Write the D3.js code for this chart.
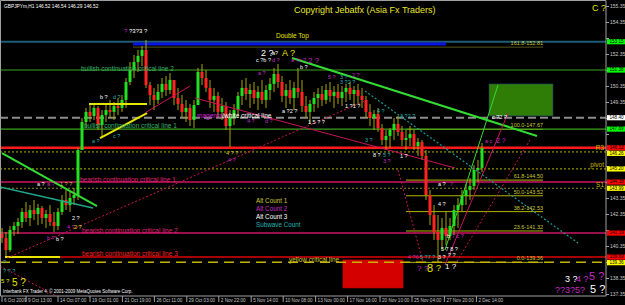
<!DOCTYPE html>
<html>
<head>
<meta charset="utf-8">
<script src="https://cdn.jsdelivr.net/npm/d3@7"></script>
<style>
  body { margin: 0; background: #000; }
  svg { display: block; font-family: Arial, "Liberation Sans", sans-serif; }
</style>
</head>
<body>
<div id="chart"></div>
<script>
// GBPJPY H1 bars, one slot per ~8 hours (high / low / close)
var barHigh = [141.51,141.26,141.63,141.88,142.13,142.76,143.13,142.94,143.26,143.01,
  142.88,142.63,142.94,142.51,142.76,143.57,143.88,143.76,144.01,146.51,
  148.38,149.01,149.26,149.32,149.13,148.88,149.26,149.51,149.38,149.63,
  149.82,150.88,151.88,152.32,152.63,152.88,153.26,150.63,150.26,150.51,
  150.88,151.01,151.19,150.63,150.26,149.82,149.51,149.26,149.51,151.51,
  151.76,151.38,150.76,150.26,150.01,149.63,149.38,148.88,149.26,150.01,
  150.76,150.88,150.51,150.63,150.38,150.76,150.44,150.88,151.51,151.76,
  151.01,150.51,150.76,150.63,151.51,150.76,149.76,149.51,150.01,150.26,
  150.38,150.51,150.63,150.38,150.51,150.38,150.51,150.63,150.38,150.51,
  150.26,149.76,149.26,148.88,149.01,148.01,147.63,147.76,148.38,148.51,
  147.88,147.63,147.88,147.63,147.13,147.01,146.38,143.88,142.94,142.32,
  142.13,142.51,142.13,142.94,143.38,143.88,144.26,144.63,145.44,145.76,146.82];
var barLow = [140.57,139.69,140.01,141.01,141.13,141.51,141.88,141.63,142.01,141.69,
  141.76,141.51,141.63,141.26,141.38,142.32,142.63,142.51,142.94,143.26,
  146.38,147.76,148.13,148.26,147.63,147.13,148.13,148.38,148.26,148.57,
  148.76,149.01,150.44,150.88,151.26,151.63,150.26,149.19,148.88,149.26,
  149.63,149.76,149.88,149.19,148.88,148.38,148.13,147.88,147.76,149.19,
  150.44,150.01,149.01,148.76,148.38,148.26,147.63,146.57,147.94,148.38,
  149.19,149.51,149.01,149.26,148.88,149.26,149.01,149.51,150.01,150.26,
  149.38,149.01,149.26,148.88,149.63,148.76,148.38,148.01,148.76,149.01,
  149.13,149.26,149.38,149.01,149.26,149.13,149.38,149.51,149.13,149.26,
  149.01,148.38,147.88,147.63,147.51,146.69,146.38,146.51,147.01,147.26,
  146.63,146.38,146.63,146.38,146.01,145.76,143.26,141.69,140.76,139.32,
  140.13,140.44,140.76,141.07,141.51,142.51,142.94,143.26,143.88,144.38,145.01];
var barClose = [140.88,140.13,141.38,141.63,141.88,142.51,142.13,142.63,142.38,142.76,
  142.13,142.38,141.88,141.63,142.51,143.26,142.94,143.38,143.57,146.38,
  148.13,148.76,148.51,149.01,147.94,148.57,148.88,148.76,149.13,149.01,
  149.51,150.63,151.38,151.88,152.26,152.63,150.44,149.82,149.51,150.01,
  150.51,150.13,150.76,149.63,149.26,148.76,149.01,148.26,149.19,151.26,
  150.88,150.26,149.51,149.76,148.76,149.13,147.88,148.38,148.88,149.76,
  150.26,149.88,150.13,149.63,150.01,149.51,150.13,150.51,151.13,150.63,
  149.76,150.13,149.63,150.26,150.01,149.13,148.76,149.26,149.63,149.88,
  149.51,150.13,149.76,150.01,149.63,150.01,150.26,149.88,150.13,149.76,
  149.51,148.76,148.38,148.63,147.76,147.01,147.26,147.63,148.01,147.51,
  147.01,147.13,147.38,146.63,146.88,146.01,143.57,142.32,141.26,140.76,
  141.51,141.01,141.63,142.63,142.94,143.51,143.88,144.13,145.13,145.26,146.51];
var firstOpen = 141.13;

// time axis
var timeLabels = ["6 Oct 2009", "9 Oct 13:00", "14 Oct 07:00", "19 Oct 01:00", "21 Oct 19:00",
  "26 Oct 11:00", "29 Oct 03:00", "2 Nov 22:00", "5 Nov 14:00", "10 Nov 08:00", "13 Nov 00:00",
  "17 Nov 16:00", "20 Nov 10:00", "25 Nov 04:00", "27 Nov 20:00", "2 Dec 14:00"];
var timeTickBars = [0, 6, 14, 22, 30.1, 38.1, 46.2, 54.2, 62.3, 70.3, 78.4, 86.4, 94.5, 102.5, 110.6, 118.6];

// price axis
var priceTicks = [155.35, 154.35, 153.35, 152.35, 151.35, 150.35, 149.35, 148.35, 147.35,
  146.35, 145.35, 144.35, 143.35, 142.35, 141.35, 140.35, 139.35, 138.35, 137.35];

// critical lines
var levelNames = ["doubleTop", "bullish2", "magentaWhite", "bullish1", "bid", "bearish1", "bearish2", "bearish3", "yellowCritical"];
var levelPrices = [153.15, 151.38, 148.40, 147.69, 146.52, 144.38, 141.19, 139.69, 139.36];

// fibonacci levels
var fibNames = ["161.8", "100.0", "61.8", "50.0", "38.2", "23.6", "0.0"];
var fibPrices = [152.81, 147.67, 144.50, 143.52, 142.53, 141.32, 139.36];

// pivots
var pivotNames = ["R3", "pivot", "S1"];
var pivotPrices = [146.26, 145.20, 143.99];

// price boxes on the axis
var markerPrices = [153.15, 151.38, 148.40, 147.69, 146.52, 146.26, 145.20, 144.38, 143.99, 141.19, 139.69, 139.36];
var markerKinds = ["green", "green", "white", "green", "red", "yellow", "yellow", "red", "yellow", "red", "red", "yellow"];

// trendlines: [bar1, price1, bar2, price2]
var trendLime = [[0, 146.19, 23.75, 142.88], [72.5, 152.13, 133.75, 147.26]];
var trendLimeThin = [[110.75, 140.13, 124, 150.44]];
var trendTeal = [[-0.5, 144.07, 22.75, 142.76]];
var trendYellow = [[21.75, 149.26, 36.25, 149.26], [24.5, 147.13, 36.25, 148.69], [0.75, 139.69, 14.5, 139.69]];
var trendCrimson = [[35.75, 148.70, 47, 150.38], [48.25, 149.63, 113.25, 145.26], [110.75, 139.20, 126.5, 148.69]];
var trendCrimsonDash = [[1.25, 139.63, 91.25, 149.51], [113.25, 139.20, 132, 147.01], [99, 145.13, 105.25, 139.38], [-0.5, 139.13, 13.5, 137.26]];
var trendTealDot = [[90.75, 150.07, 144, 140.57]];
var doubleTopBar = [32.75, 153.00, 111, 153.00];

// zones: [bar1, price1, bar2, price2]
var greenZone = [121.75, 150.51, 137.75, 148.51];
var redZone = [85.25, 139.51, 100.25, 137.76];

// wave count labels
var waveLabels = [
  {t: "?", b: 30.5, p: 153.69, c: "m", s: 6},
  {t: "?3?3 ?", b: 31.75, p: 153.69, c: "w", s: 6},
  {t: "2 ?", b: 64.75, p: 152.26, c: "w", s: 9},
  {t: "a?", b: 67.5, p: 152.32, c: "w", s: 5.5},
  {t: "A ?", b: 70, p: 152.26, c: "y", s: 9},
  {t: "c ?b ?", b: 63.5, p: 151.88, c: "w", s: 5.5},
  {t: "d ?", b: 67.5, p: 151.88, c: "m", s: 5.5},
  {t: "a ?c ?", b: 72.25, p: 151.88, c: "m", s: 5.5},
  {t: "2 ?", b: 76.5, p: 151.82, c: "m", s: 8},
  {t: "b ?", b: 74.5, p: 151.44, c: "w", s: 5.5},
  {t: "a ?", b: 64, p: 151.07, c: "m", s: 5.5},
  {t: "5 ?", b: 81.5, p: 150.82, c: "m", s: 5.5},
  {t: "3 ?", b: 84.5, p: 150.82, c: "t", s: 5.5},
  {t: "2 ?", b: 87.5, p: 150.94, c: "m", s: 5.5},
  {t: "3 ?2 ?", b: 84.5, p: 150.51, c: "t", s: 5.5},
  {t: "b ?", b: 24.5, p: 149.57, c: "w", s: 5.5},
  {t: "d ?", b: 27.75, p: 149.57, c: "t", s: 5.5},
  {t: "a ?", b: 22.5, p: 146.82, c: "t", s: 5.5},
  {t: "c ?", b: 27.75, p: 147.13, c: "t", s: 5.5},
  {t: "4 ?", b: 61.25, p: 148.06, c: "m", s: 5.5},
  {t: "d ?", b: 65.75, p: 148.06, c: "m", s: 5.5},
  {t: "a ?2 ?", b: 70, p: 148.69, c: "w", s: 5.5},
  {t: "4 ? ?", b: 56, p: 146.07, c: "o", s: 5.5},
  {t: "4 ?", b: 56.5, p: 145.63, c: "m", s: 5.5},
  {t: "1 5 ? ?", b: 76.5, p: 148.01, c: "w", s: 5.5},
  {t: "1 ?1 ?", b: 85.75, p: 149.01, c: "w", s: 5.5},
  {t: "4 ?", b: 93.75, p: 148.69, c: "t", s: 5.5},
  {t: "3 ?", b: 90.75, p: 146.88, c: "t", s: 5.5},
  {t: "8 ?", b: 92.75, p: 145.94, c: "w", s: 5.5},
  {t: "5 ?", b: 95.25, p: 145.94, c: "t", s: 5.5},
  {t: "3 ?", b: 95.25, p: 145.57, c: "m", s: 5.5},
  {t: "3 ?2 ?", b: 99.5, p: 148.38, c: "t", s: 5.5},
  {t: "1 ?", b: 99.5, p: 145.88, c: "w", s: 5.5},
  {t: "c ?2 ?", b: 122.5, p: 148.32, c: "w", s: 5.5},
  {t: "a c", b: 120.75, p: 146.82, c: "m", s: 5.5},
  {t: "2 ?", b: 123.5, p: 146.82, c: "m", s: 7},
  {t: "a ?", b: 109, p: 144.13, c: "w", s: 5.5},
  {t: "?", b: 112, p: 144.13, c: "m", s: 5.5},
  {t: "4 ?", b: 109, p: 142.88, c: "w", s: 5.5},
  {t: "b", b: 111.25, p: 140.88, c: "w", s: 5.5},
  {t: "7 c ?", b: 112.5, p: 140.88, c: "m", s: 5.5},
  {t: "5 7 8 ?", b: 109.75, p: 140.07, c: "w", s: 5.5},
  {t: "3 ?", b: 109, p: 139.55, c: "w", s: 5.5},
  {t: "? ?", b: 111.5, p: 139.68, c: "w", s: 5.5},
  {t: "4 ?6", b: 101.5, p: 139.55, c: "m", s: 5.5},
  {t: "5 ?7 ?", b: 104.5, p: 139.55, c: "t", s: 5.5},
  {t: "? ?", b: 103.75, p: 138.85, c: "m", s: 8},
  {t: "8", b: 106.25, p: 138.73, c: "y", s: 11},
  {t: "?", b: 108.5, p: 138.79, c: "y", s: 9},
  {t: "1 ?", b: 110.75, p: 138.92, c: "w", s: 8},
  {t: "3 ?", b: 140.75, p: 138.13, c: "w", s: 9},
  {t: "4 ?", b: 143.5, p: 138.13, c: "m", s: 9},
  {t: "5 ?", b: 146.75, p: 138.28, c: "m", s: 11},
  {t: "??3?5?", b: 138.25, p: 137.44, c: "m", s: 9},
  {t: "5 ?", b: 147, p: 137.44, c: "w", s: 11},
  {t: "?", b: 0.25, p: 139.26, c: "t", s: 5.5},
  {t: "? ? ?", b: 0.25, p: 138.70, c: "t", s: 5.5},
  {t: "5 ?", b: -0.25, p: 138.07, c: "y", s: 6},
  {t: "5 ?", b: 2.5, p: 137.88, c: "y", s: 10},
  {t: "b ?", b: 11.25, p: 140.76, c: "m", s: 5.5},
  {t: "b ?", b: 13.5, p: 140.69, c: "w", s: 5.5},
  {t: "2 ?", b: 17.5, p: 142.01, c: "w", s: 5.5},
  {t: "4 ?", b: 16.25, p: 141.44, c: "m", s: 5.5},
  {t: "2 ?", b: 18, p: 141.44, c: "y", s: 5.5},
  {t: "a ?", b: 8.75, p: 144.13, c: "w", s: 5.5},
  {t: "a ?", b: 11.25, p: 144.13, c: "m", s: 5.5},
  {t: "1 ? ?", b: 14.5, p: 144.13, c: "o", s: 5.5}
];

// ---- styles ----
var waveColor = {w: "#ffffff", m: "#c42cc4", t: "#22b4b4", y: "#e6e600", o: "#c8c832"};
var boxColor = {green: "#00ff00", white: "#ffffff", red: "#ff0000", yellow: "#ffff00"};
var levelStyle = {
  doubleTop:      {color: "#1e5d7a", width: 2},
  bullish2:       {color: "#3da01f", width: 1.2},
  magentaWhite:   {color: "#8c8c8c", width: 2, dash: "8,4"},
  bullish1:       {color: "#3da01f", width: 1.2},
  bid:            {color: "#ff1a1a", width: 2.5},
  bearish1:       {color: "#cc1466", width: 1.5},
  bearish2:       {color: "#cc1466", width: 1.5},
  bearish3:       {color: "#e00000", width: 1.5, from: 14.5},
  yellowCritical: {color: "#c8b400", width: 1.5, dash: "10,6"}
};

var W = 625, H = 305, plotR = 606, plotB = 296;

var x = d3.scaleLinear().domain([0, 151]).range([2, 606]);
var y = d3.scaleLinear().domain([137.35, 155.35]).range([294.5, 6.5]);

var svg = d3.select("#chart").append("svg")
  .attr("width", W).attr("height", H);

svg.append("rect").attr("width", W).attr("height", H).attr("fill", "#000");

svg.append("defs").append("clipPath").attr("id", "plot")
  .append("rect").attr("x", 0).attr("y", 0).attr("width", plotR).attr("height", plotB);

var plot = svg.append("g").attr("clip-path", "url(#plot)");

// zones
function zone(z, fill, stroke) {
  plot.append("rect")
    .attr("x", x(z[0])).attr("y", y(z[1]))
    .attr("width", x(z[2]) - x(z[0])).attr("height", y(z[3]) - y(z[1]))
    .attr("fill", fill).attr("stroke", stroke).attr("stroke-width", 0.6);
}
zone(greenZone, "#2f7d06", "#1a3a6a");
zone(redZone, "#d40000", "#d40000");

// pivot lines
plot.selectAll(".pivot").data(pivotPrices).enter().append("line")
  .attr("x1", x(-0.5)).attr("x2", x(151))
  .attr("y1", function(d) { return y(d); }).attr("y2", function(d) { return y(d); })
  .attr("stroke", function(d, i) { return i == 2 ? "#8a8a20" : "#b4b400"; })
  .attr("stroke-width", 1).attr("stroke-dasharray", "2,2");

// fib lines
plot.selectAll(".fib").data(fibPrices).enter().append("line")
  .attr("x1", function(d, i) { return i == 0 ? x(32.75) : x(101); })
  .attr("x2", x(135.25))
  .attr("y1", function(d) { return y(d); }).attr("y2", function(d) { return y(d); })
  .attr("stroke", function(d, i) { return i == 0 ? "#55551a" : "#b4b400"; })
  .attr("stroke-width", 1);

// critical lines
levelNames.forEach(function(name, i) {
  var st = levelStyle[name];
  plot.append("line")
    .attr("x1", x(st.from != null ? st.from : -0.5)).attr("x2", x(151))
    .attr("y1", y(levelPrices[i])).attr("y2", y(levelPrices[i]))
    .attr("stroke", st.color).attr("stroke-width", st.width)
    .attr("stroke-dasharray", st.dash || null);
});

// double top bar
plot.append("line")
  .attr("x1", x(doubleTopBar[0])).attr("y1", y(doubleTopBar[1]))
  .attr("x2", x(doubleTopBar[2])).attr("y2", y(doubleTopBar[3]))
  .attr("stroke", "#0a14e0").attr("stroke-width", 3);

// candles
var bars = plot.append("g");
barClose.forEach(function(c, i) {
  var o = i == 0 ? firstOpen : barClose[i - 1];
  bars.append("line")
    .attr("x1", x(i)).attr("x2", x(i))
    .attr("y1", y(barHigh[i])).attr("y2", y(barLow[i]))
    .attr("stroke", "#a8a800").attr("stroke-width", 1);
  var top = y(Math.max(o, c)), bot = y(Math.min(o, c));
  bars.append("rect")
    .attr("x", x(i) - 1.5).attr("width", 3)
    .attr("y", top).attr("height", Math.max(1, bot - top))
    .attr("fill", c >= o ? "#22e022" : "#ff2424");
});

// trendlines
function drawTrend(list, color, width, dash) {
  plot.selectAll(null).data(list).enter().append("line")
    .attr("x1", function(d) { return x(d[0]); }).attr("y1", function(d) { return y(d[1]); })
    .attr("x2", function(d) { return x(d[2]); }).attr("y2", function(d) { return y(d[3]); })
    .attr("stroke", color).attr("stroke-width", width)
    .attr("stroke-dasharray", dash || null);
}
drawTrend(trendTeal, "#1fa58a", 1.5);
drawTrend(trendLime, "#32dc32", 2);
drawTrend(trendLimeThin, "#32dc32", 1);
drawTrend(trendYellow, "#e6e600", 2);
drawTrend(trendCrimson, "#c8145a", 1);
drawTrend(trendCrimsonDash, "#c8145a", 1, "2,2");
drawTrend(trendTealDot, "#1a9a9a", 1.2, "2,2");

// line captions
function caption(txt, xp, yp, color, size, anchor) {
  return plot.append("text").attr("x", xp).attr("y", yp)
    .attr("fill", color).attr("font-size", size)
    .attr("text-anchor", anchor || "start").text(txt);
}
caption("bullish continuation critical line 2", x(19.75), y(151.38) + 1, "#33b36b", 6.5);
caption("bullish continuation critical line 1", x(20.5), y(147.69) - 1, "#33b36b", 6.5);
caption("bearish continuation critical line 1", x(19.5), y(144.38), "#e0207a", 6.5);
caption("bearish continuation critical line 2", x(20), y(141.19), "#e0207a", 6.5);
caption("bearish continuation critical line 3", x(20), y(139.69) - 1, "#ff2020", 6.5);
caption("yellow critical line", x(71.75), y(139.36), "#c8c832", 6.5);
var mw = caption("magenta", x(48.75), y(148.40), "#d020d0", 6.5);
mw.append("tspan").attr("fill", "#ffffff").text("/white critical line");
caption("Double Top", x(68.5), y(153.15) - 4, "#e6e600", 6.5);

// fib captions
fibNames.forEach(function(n, i) {
  caption(n + "-" + fibPrices[i].toFixed(2), x(135.25), y(fibPrices[i]) - 2, "#c8c832", 5.5, "end");
});

// pivot captions
pivotNames.forEach(function(n, i) {
  caption(n, 604, y(pivotPrices[i]) - 1.5, "#c8b400", 6.5, "end");
});

// alt count legend
var legend = ["Alt Count 1", "Alt Count 2", "Alt Count 3", "Subwave Count"];
var legendColor = ["#c8c832", "#c42cc4", "#ffffff", "#22b4b4"];
legend.forEach(function(l, i) {
  caption(l, 256, 203 + i * 8, legendColor[i], 6.3);
});

// wave labels
waveLabels.forEach(function(d) {
  caption(d.t, x(d.b), y(d.p), waveColor[d.c], d.s);
});

// header texts
caption("GBPJPYm,H1  146.52 146.54 146.29 146.52", 4, 8, "#ffffff", 4.8);
caption("Copyright Jebatfx (Asia Fx Traders)", 294, 13, "#e6e62e", 9);
caption("C ?", 592, 11, "#e6e600", 9);
caption("Interbank FX Trader 4, \u00a9 2001-2009 MetaQuotes Software Corp.", 3, 293, "#ffffff", 4.5);

// frame
svg.append("path")
  .attr("d", "M0.5," + plotB + "V0.5H" + plotR + "V" + plotB + "H0.5")
  .attr("fill", "none").attr("stroke", "#a0a0a0").attr("stroke-width", 1);

// price axis: plain labels are hidden where a price box sits on top of them
var yAxis = svg.append("g");
priceTicks.forEach(function(p) {
  yAxis.append("line").attr("x1", plotR).attr("x2", plotR + 3)
    .attr("y1", y(p)).attr("y2", y(p)).attr("stroke", "#a0a0a0");
  var covered = markerPrices.some(function(m) { return Math.abs(y(m) - y(p)) < 7; });
  if (covered) return;
  yAxis.append("text").attr("x", plotR + 4).attr("y", y(p) + 1.8)
    .attr("fill", "#c8c8c8").attr("font-size", 5).text(p.toFixed(2));
});

// price boxes, pushed down a little when two would touch
var boxH = 5.2, lastBottom = -10;
markerPrices.map(function(p, i) { return {p: p, k: markerKinds[i]}; })
  .sort(function(a, b) { return b.p - a.p; })
  .forEach(function(m) {
    var top = Math.max(y(m.p) - boxH / 2, lastBottom + 0.4);
    lastBottom = top + boxH;
    yAxis.append("rect").attr("x", plotR + 1).attr("y", top)
      .attr("width", 18).attr("height", boxH).attr("fill", boxColor[m.k]);
    yAxis.append("text").attr("x", plotR + 3.5).attr("y", top + boxH - 1.2)
      .attr("fill", "#000").attr("font-size", 4.6).text(m.p.toFixed(2));
  });

// time axis
var xAxis = svg.append("g");
timeLabels.forEach(function(t, i) {
  var xp = x(timeTickBars[i]);
  xAxis.append("line").attr("x1", xp).attr("x2", xp)
    .attr("y1", plotB).attr("y2", plotB + 6).attr("stroke", "#a0a0a0");
  xAxis.append("text").attr("x", xp + 2).attr("y", 302)
    .attr("fill", "#c8c8c8").attr("font-size", 4.6).text(t);
});
</script>
</body>
</html>
